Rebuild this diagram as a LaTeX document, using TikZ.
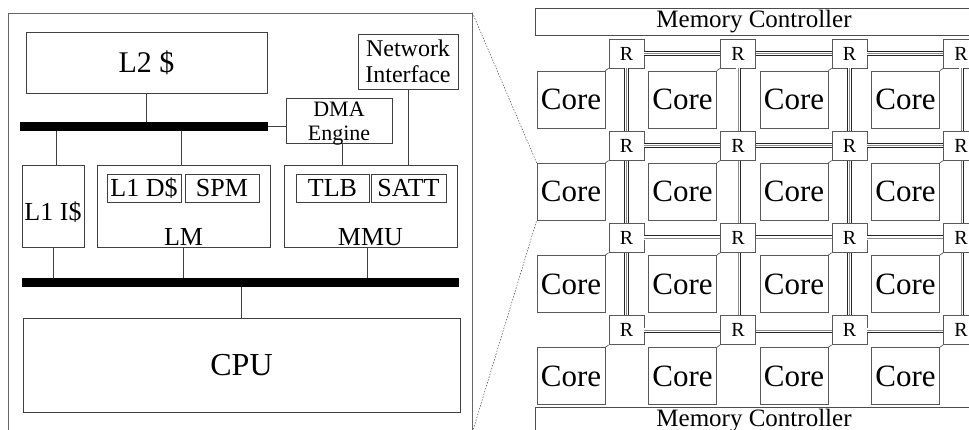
\documentclass[tikz,border=0pt]{standalone}
\usepackage{fontspec}
\setmainfont{Liberation Serif}
\usepackage{tikz}
\usetikzlibrary{positioning}

\begin{document}
\begin{tikzpicture}[x=1pt,y=-1pt,
  box/.style={draw=black!75,line width=0.7pt,inner sep=0pt,font=\fontsize{26}{28}\selectfont},
  bus/.style={fill=black,inner sep=0pt,minimum height=9pt},
  wire/.style={draw=black!75,line width=0.7pt},
  core/.style={box,draw=black!65,minimum width=68pt,minimum height=57pt,font=\fontsize{31}{33}\selectfont},
  router/.style={box,draw=black!65,minimum width=35pt,minimum height=29pt,font=\fontsize{20}{22}\selectfont},
  link/.style={draw=black!85,line width=0.8pt,double=white,double distance=3.4pt},
  link mid/.style={draw=black!45,line width=0.7pt},
  mem ctrl/.style={box,draw=black!70,minimum width=438pt,minimum height=27pt,font=\fontsize{25}{27}\selectfont},
  zoom line/.style={draw=black!70,line width=0.5pt,dash pattern=on 1.5pt off 1.5pt}]

  \useasboundingbox (0,0) rectangle (969,430);
  \clip (0,0) rectangle (969,430);

  \node[box,draw=black!60,minimum width=464pt,minimum height=419pt] (chip) at (240,222.5) {};
  \node[box,minimum width=241pt,minimum height=61pt,font=\fontsize{30}{32}\selectfont] (l2) at (146.5,62.5) {L2 \$};
  \node[box,minimum width=100pt,minimum height=55pt,align=center,font=\fontsize{24}{26}\selectfont] (ni) at (408,61.5) {Network\\Interface};
  \node[bus,minimum width=248pt] (bus1) at (144,126.5) {};
  \node[box,minimum width=106pt,minimum height=45pt] (dma) at (339,120.5) {};
  \node[align=center,inner sep=0pt,font=\fontsize{22}{24}\selectfont] (dma-txt) at (339,124) {DMA\\Engine};

  \node[box,minimum width=62pt,minimum height=82pt] (l1i) at (53,206) {};
  \node[box,minimum width=173pt,minimum height=82pt] (lm) at (183.5,206) {};
  \node[box,minimum width=173pt,minimum height=82pt] (mmu) at (370.5,206) {};
  \node[box,minimum width=74pt,minimum height=28pt] (l1d) at (144,188) {L1 D\$};
  \node[box,minimum width=74pt,minimum height=28pt] (spm) at (222,188) {SPM};
  \node[box,minimum width=73pt,minimum height=28pt] (tlb) at (332.5,188) {TLB};
  \node[box,minimum width=75pt,minimum height=28pt] (satt) at (408.5,188) {SATT};
  \node[font=\fontsize{26}{28}\selectfont,inner sep=0pt] (l1i-txt) at (53,212) {L1 I\$};
  \node[font=\fontsize{26}{28}\selectfont,inner sep=0pt] (lm-txt) at (183.5,237) {LM};
  \node[font=\fontsize{26}{28}\selectfont,inner sep=0pt] (mmu-txt) at (370.5,237) {MMU};

  \node[bus,minimum width=437pt] (bus2) at (240.5,282.5) {};
  \node[box,minimum width=437pt,minimum height=94pt,font=\fontsize{32}{34}\selectfont] (cpu) at (241.5,365) {CPU};

  \draw[wire] (l2) -- (l2 |- bus1.north);
  \draw[wire] (bus1.east) -- (bus1.east -| dma.west);
  \draw[wire] ([xshift=3pt]l1i.north) -- ([xshift=3pt]l1i.north |- bus1.south);
  \draw[wire] ([xshift=-2.5pt]lm.north) -- ([xshift=-2.5pt]lm.north |- bus1.south);
  \draw[wire] ([xshift=3pt]dma.south) -- ([xshift=3pt]dma.south |- mmu.north);
  \draw[wire] (ni) -- (ni |- mmu.north);
  \draw[wire] (l1i) -- (l1i |- bus2.north);
  \draw[wire] (lm) -- (lm |- bus2.north);
  \draw[wire] ([xshift=-3.5pt]mmu.south) -- ([xshift=-3.5pt]mmu.south |- bus2.north);
  \draw[wire] (cpu) -- (cpu |- bus2.south);

  \node[mem ctrl] (mc-top) at (754,21.5) {Memory Controller};
  \node[mem ctrl] (mc-bot) at (754,420.5) {Memory Controller};

  \foreach \r in {1,...,4} {
    \foreach \c in {1,...,4} {
      \node[router] (rt-\r-\c) at ({626.5+111.5*(\c-1)},{53.5+92.2*(\r-1)}) {R};
      \node[core] (core-\r-\c) at ({571+111.5*(\c-1)},{99.5+92.2*(\r-1)}) {Core};
      \draw[wire,draw=black!65] (core-\r-\c.north east) -- (rt-\r-\c.south west);
    }
  }
  \foreach \r in {1,...,4} {
    \foreach \c [evaluate=\c as \n using int(\c+1)] in {1,2,3} {
      \draw[link] (rt-\r-\c) -- (rt-\r-\n);
      \draw[link mid] (rt-\r-\c) -- (rt-\r-\n);
    }
  }
  \foreach \r [evaluate=\r as \n using int(\r+1)] in {1,2,3} {
    \foreach \c in {1,...,4} {
      \draw[link] (rt-\r-\c) -- (rt-\n-\c);
      \draw[link mid] (rt-\r-\c) -- (rt-\n-\c);
    }
  }

  \draw[zoom line] (chip.north east) -- (core-2-1.north west);
  \draw[zoom line] (chip.south east) -- (core-2-1.south west);
\end{tikzpicture}
\end{document}
